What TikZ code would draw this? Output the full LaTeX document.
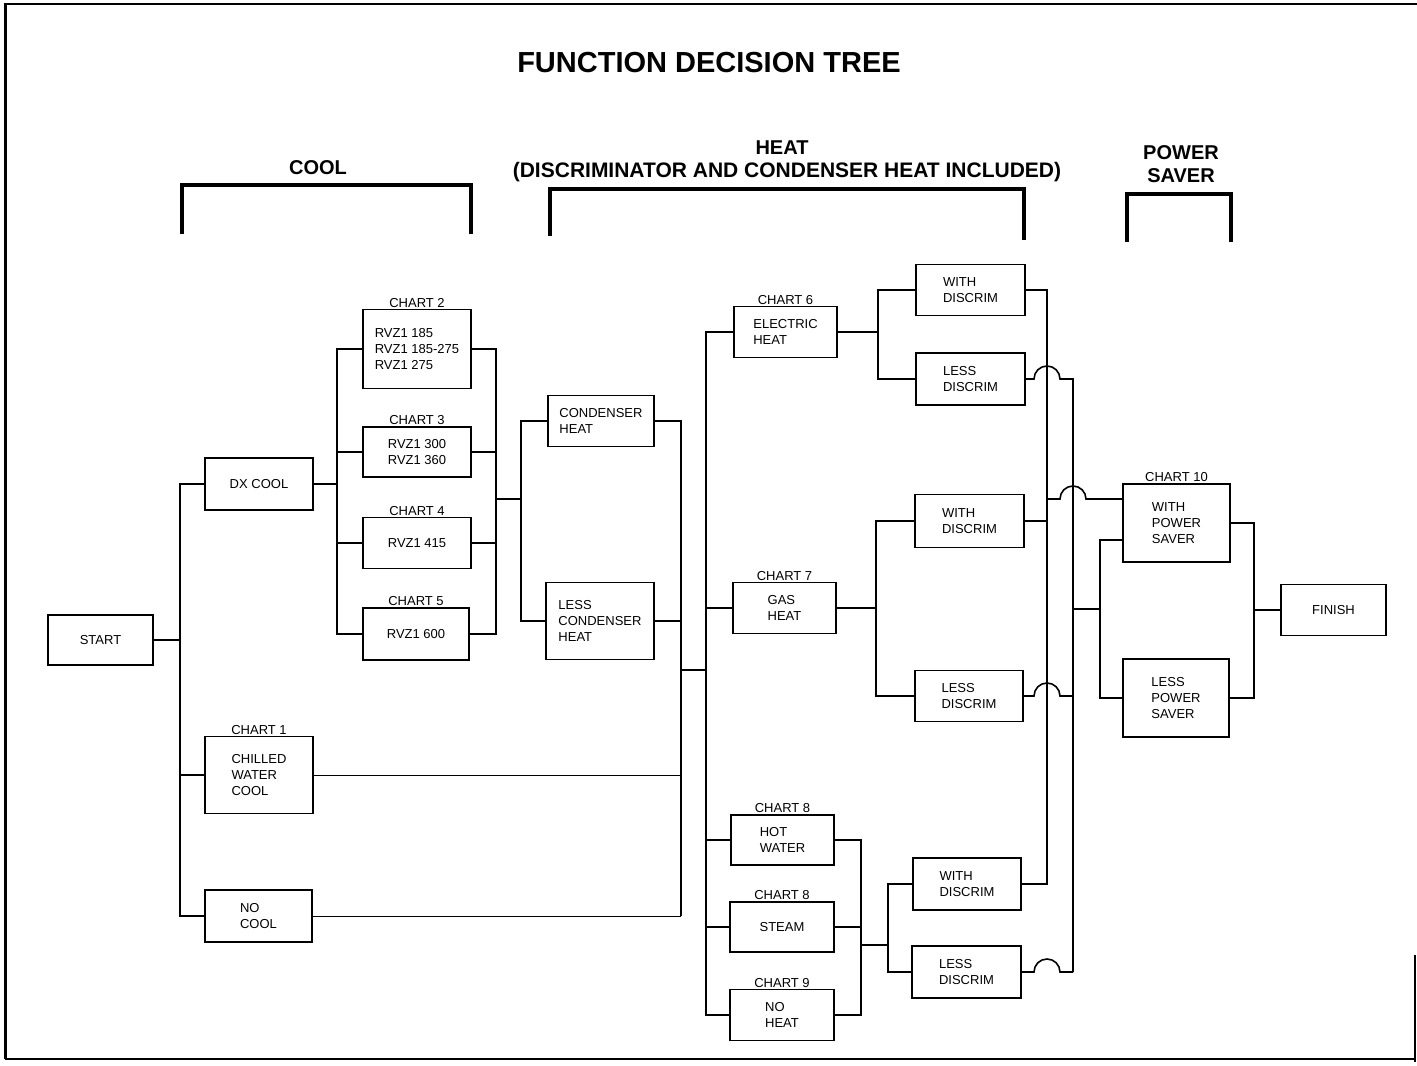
\documentclass[tikz,border=0pt]{standalone}
\usepackage{fontspec}
\setmainfont{Liberation Sans}
\usetikzlibrary{calc}
\tikzset{
  box/.style={draw, line width=1.4pt, rectangle, inner sep=0pt, outer sep=0pt,
    align=left, font=\fontsize{13}{16}\selectfont},
  chart/.style={font=\fontsize{13}{15}\selectfont, inner sep=2pt},
  conn/.style={line width=1.6pt},
  thinconn/.style={line width=1.0pt},
  brk/.style={line width=4.5pt, line cap=butt, line join=miter},
  head/.style={font=\bfseries\fontsize{20}{23}\selectfont, align=center, inner sep=0pt},
  hop/.style={start angle=180, end angle=0, radius=13pt},
}
\begin{document}
\begin{tikzpicture}[x=1pt,y=-1pt]
\useasboundingbox (0,0) rectangle (1417,1066);
% frame
\draw[line width=1.2pt] (5,4) -- (1417,4);
\draw[line width=3pt] (5,3) -- (5,1059);
\draw[line width=1.4pt] (5,1059) -- (1416,1059);
\draw[line width=1.4pt] (1415,955) -- (1415,1062);

% title and headings
\node[font=\bfseries\fontsize{29}{32}\selectfont, inner sep=0pt] (title) at (709,63) {FUNCTION DECISION TREE};
\node[head] (hcool) at (318,168) {COOL};
\node[head, font=\bfseries\fontsize{20}{24}\selectfont] (hheat) at (782,148) {HEAT};
\node[head, font=\bfseries\fontsize{21}{24}\selectfont] (hheat2) at (787,172) {(DISCRIMINATOR AND CONDENSER HEAT INCLUDED)};
\node[head] (hps) at (1181,164) {POWER\\SAVER};
\draw[brk] (182,234) -- (182,185) -- (471,185) -- (471,234);
\draw[brk] (550,236) -- (550,189) -- (1024,189) -- (1024,240);
\draw[brk] (1127,242) -- (1127,194) -- (1231,194) -- (1231,242);

% boxes
\node[box, minimum width=105pt, minimum height=50pt] (start) at (100.5,640) {START};
\node[box, minimum width=108pt, minimum height=52pt] (dx) at (259,484) {DX COOL};
\node[box, minimum width=108pt, minimum height=77pt, label={[chart]above:CHART 1}] (cw) at (259,775) {CHILLED\\WATER\\COOL};
\node[box, minimum width=107pt, minimum height=52pt] (nc) at (258.5,916) {NO\\COOL};

\node[box, minimum width=108pt, minimum height=79pt, label={[chart]above:CHART 2}] (c2) at (417,349) {RVZ1 185\\RVZ1 185-275\\RVZ1 275};
\node[box, minimum width=108pt, minimum height=50pt, label={[chart]above:CHART 3}] (c3) at (417,452) {RVZ1 300\\RVZ1 360};
\node[box, minimum width=108pt, minimum height=51pt, label={[chart]above:CHART 4}] (c4) at (417,543) {RVZ1 415};
\node[box, minimum width=106pt, minimum height=52pt, label={[chart]above:CHART 5}] (c5) at (416,634) {RVZ1 600};

\node[box, minimum width=106pt, minimum height=51pt] (ch) at (601,421) {CONDENSER\\HEAT};
\node[box, minimum width=108pt, minimum height=77pt] (lch) at (600,621) {LESS\\CONDENSER\\HEAT};

\node[box, minimum width=103pt, minimum height=51pt, label={[chart]above:CHART 6}] (eh) at (785.5,332) {ELECTRIC\\HEAT};
\node[box, minimum width=103pt, minimum height=51pt, label={[chart]above:CHART 7}] (gh) at (784.5,608) {GAS\\HEAT};
\node[box, minimum width=103pt, minimum height=50pt, label={[chart]above:CHART 8}] (hw) at (782.5,840) {HOT\\WATER};
\node[box, minimum width=104pt, minimum height=50pt, label={[chart]above:CHART 8}] (st) at (782,927) {STEAM};
\node[box, minimum width=104pt, minimum height=51pt, label={[chart]above:CHART 9}] (nh) at (782,1015) {NO\\HEAT};

\node[box, minimum width=109pt, minimum height=51pt] (wd1) at (970.5,290) {WITH\\DISCRIM};
\node[box, minimum width=109pt, minimum height=52pt] (ld1) at (970.5,379) {LESS\\DISCRIM};
\node[box, minimum width=109pt, minimum height=53pt] (wd2) at (969.5,521) {WITH\\DISCRIM};
\node[box, minimum width=108pt, minimum height=51pt] (ld2) at (969,696) {LESS\\DISCRIM};
\node[box, minimum width=108pt, minimum height=52pt] (wd3) at (967,884) {WITH\\DISCRIM};
\node[box, minimum width=109pt, minimum height=52pt] (ld3) at (966.5,972) {LESS\\DISCRIM};

\node[box, minimum width=107pt, minimum height=78pt, label={[chart]above:CHART 10}] (wps) at (1176.5,523) {WITH\\POWER\\SAVER};
\node[box, minimum width=106pt, minimum height=78pt] (lps) at (1176,698) {LESS\\POWER\\SAVER};
\node[box, minimum width=105pt, minimum height=51pt] (fin) at (1333.5,610) {FINISH};

% junction coordinates
\coordinate (j1) at (180,640);
\coordinate (j2) at (337,484);
\coordinate (j3) at (496,499);
\coordinate (j4) at (521,499);
\coordinate (j5) at (681,670);
\coordinate (j6) at (706,670);
\coordinate (j7) at (878,332);
\coordinate (j8) at (876,608);
\coordinate (j9) at (861,945);
\coordinate (j10) at (888,945);
\coordinate (Ax) at (1047,0);
\coordinate (Bx) at (1073,0);
\coordinate (a499) at (1047,499);
\coordinate (j11) at (1100,609);
\coordinate (j12) at (1254,610);

% cool section
\draw[conn] (start.east) -- (j1);
\draw[conn] (dx.west) -| (j1) |- (nc.west);
\draw[conn] (cw.west) -- (cw.west -| j1);
\draw[conn] (dx.east) -- (j2);
\draw[conn] (c2.west) -| (j2) |- (c5.west);
\draw[conn] (c3.west) -- (c3.west -| j2);
\draw[conn] (c4.west) -- (c4.west -| j2);
\draw[conn] (c2.east) -| (j3) |- (c5.east);
\draw[conn] (c3.east) -- (c3.east -| j3);
\draw[conn] (c4.east) -- (c4.east -| j3);
\draw[conn] (j3) -- (j4);
\draw[conn] (ch.west) -| (j4) |- (lch.west);

% condenser to heat
\draw[conn] (ch.east) -| (j5) -- (nc.east -| j5);
\draw[thinconn] (nc.east) -- (nc.east -| j5);
\draw[conn] (lch.east) -- (lch.east -| j5);
\draw[thinconn] (cw.east) -- (cw.east -| j5);
\draw[conn] (j5) -- (j6);

% heat section
\draw[conn] (eh.west) -| (j6) |- (nh.west);
\draw[conn] (gh.west) -- (gh.west -| j6);
\draw[conn] (hw.west) -- (hw.west -| j6);
\draw[conn] (st.west) -- (st.west -| j6);

\draw[conn] (eh.east) -- (j7);
\draw[conn] (wd1.west) -| (j7) |- (ld1.west);
\draw[conn] (gh.east) -- (j8);
\draw[conn] (wd2.west) -| (j8) |- (ld2.west);
\draw[conn] (hw.east) -| (j9) |- (nh.east);
\draw[conn] (st.east) -- (st.east -| j9);
\draw[conn] (j9) -- (j10);
\draw[conn] (wd3.west) -| (j10) |- (ld3.west);

% discrim buses
\draw[conn] (wd1.east) -| (wd3.east -| Ax) -- (wd3.east);
\draw[conn] (wd2.east) -- (wd2.east -| Ax);
\draw[conn] (ld1.east) -- ($(ld1.east -| Ax)+(-13pt,0)$) arc[hop] -| (ld3.east -| Bx);
\draw[conn] (ld2.east) -- ($(ld2.east -| Ax)+(-13pt,0)$) arc[hop] -- (ld2.east -| Bx);
\draw[conn] (ld3.east) -- ($(ld3.east -| Ax)+(-13pt,0)$) arc[hop] -- (ld3.east -| Bx);
\draw[conn] (a499) -- ($(a499 -| Bx)+(-13pt,0)$) arc[hop] -- (wps.west |- a499);
\draw[conn] (j11 -| Bx) -- (j11);

% power saver
\draw[conn] (wps.west |- 0,540) -| (j11) |- (lps.west);
\draw[conn] (wps.east) -| (j12) |- (lps.east);
\draw[conn] (j12) -- (fin.west);
\end{tikzpicture}
\end{document}
